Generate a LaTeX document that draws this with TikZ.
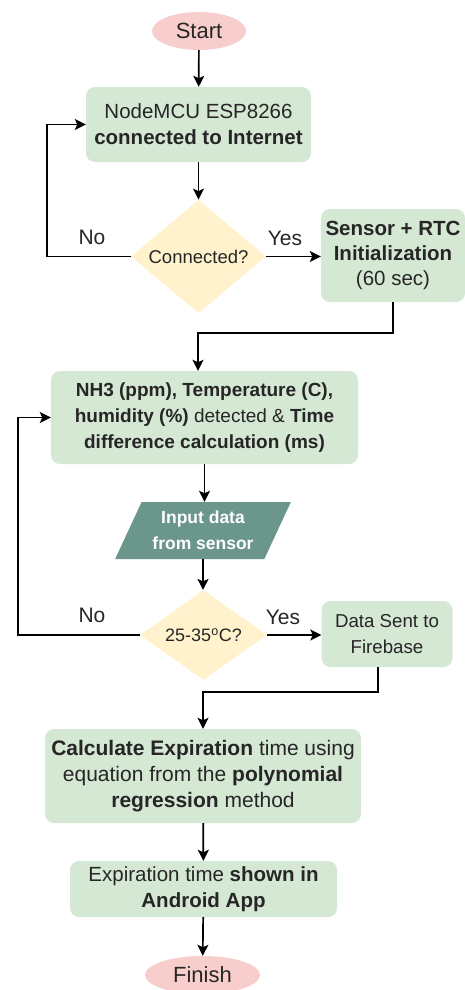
\documentclass[tikz,border=0pt]{standalone}
\usepackage{fontspec}
\setmainfont{Liberation Sans}
\usetikzlibrary{shapes.geometric,arrows.meta,calc}
\definecolor{termfill}{HTML}{F8CECC}
\definecolor{procfill}{HTML}{D5E8D4}
\definecolor{decfill}{HTML}{FFF2CC}
\definecolor{iofill}{RGB}{107,150,139}
\newcommand\setfs[1]{\fontsize{#1}{26}\selectfont}
\begin{document}
\begin{tikzpicture}[x=1pt,y=-1pt,
  term/.style={ellipse, fill=termfill, inner sep=0pt, text=black!85},
  proc/.style={rectangle, rounded corners=9pt, fill=procfill, align=center, inner sep=0pt, text=black!85},
  dec/.style={diamond, fill=decfill, inner sep=0pt, align=center, text=black!85},
  io/.style={trapezium, trapezium left angle=60.7, trapezium right angle=119.3, trapezium stretches=true, fill=iofill, text=white, align=center, inner sep=0pt},
  arr/.style={line width=1.7pt, -{Stealth[length=11pt,width=11pt,inset=2.5pt]}},
  lab/.style={font=\setfs{21}, text=black!85, inner sep=0pt}]
\clip (0,0) rectangle (465,990);
\useasboundingbox (0,0) rectangle (465,990);

\node[term, minimum width=94pt, minimum height=38pt, font=\setfs{22}] (start) at (199,31) {Start};
\node[proc, minimum width=225pt, minimum height=75pt, font=\setfs{20.5}] (b1) at (198.5,124.5) {NodeMCU ESP8266\\\textbf{connected to Internet}};
\node[dec, minimum width=135pt, minimum height=113pt, font=\setfs{18.5}] (d1) at (198.5,256.5) {Connected?};
\node[proc, minimum width=144pt, minimum height=93pt, font=\fontsize{20.5}{25}\selectfont] (b2) at (393,255.5) {\textbf{Sensor + RTC}\\\textbf{Initialization}\\(60 sec)};
\node[proc, minimum width=307pt, minimum height=93pt, font=\setfs{19}] (b3) at (204.5,417.5) {\textbf{NH3 (ppm), Temperature (C),}\\\textbf{humidity (\%)} detected \& \textbf{Time}\\\textbf{difference calculation (ms)}};
\node[io, minimum width=176pt, minimum height=57pt, font=\bfseries\setfs{17.5}] (in) at (203,530.5) {Input data\\from sensor};
\node[dec, minimum width=127pt, minimum height=74pt, font=\setfs{18}] (d2) at (203.5,635) {25-35\textsuperscript{o}C?};
\node[proc, minimum width=131pt, minimum height=66pt, font=\setfs{18.7}] (b4) at (387,634) {Data Sent to\\Firebase};
\node[proc, minimum width=316pt, minimum height=94pt, font=\setfs{21}] (b5) at (203,776) {\textbf{Calculate Expiration} time using\\equation from the \textbf{polynomial}\\\textbf{regression} method};
\node[proc, minimum width=267pt, minimum height=56pt, font=\setfs{20.5}] (b6) at (203.5,889) {Expiration time \textbf{shown in}\\\textbf{Android App}};
\node[term, minimum width=115pt, minimum height=38pt, font=\setfs{22}] (fin) at (202.5,975) {Finish};

\node[lab] (no1) at (92,237) {No};
\node[lab] (yes1) at (285,238) {Yes};
\node[lab] (no2) at (92,615) {No};
\node[lab] (yes2) at (283,617) {Yes};

\draw[arr] (start) -- (b1);
\draw[arr] (b1) -- (d1);
\draw[arr] (d1.west) -- ++(-84,0) |- (b1.west);
\draw[arr] (d1.east) -- (d1.east -| b2.west);
\draw[arr] (b2.south) -- ++(0,31) -| ([xshift=-6.5pt]b3.north);
\draw[arr] (b3.south) -- (b3.south |- in.north);
\draw[arr] (in.south) -- (in.south |- d2.north);
\draw[arr] (d2.west) -- ++(-122,0) |- (b3.west);
\draw[arr] (d2.east) -- (d2.east -| b4.west);
\draw[arr] ([xshift=-9pt]b4.south) -- ++(0,25) -| (b5.north);
\draw[arr] (b5) -- (b6);
\draw[arr] (b6) -- (fin);
\end{tikzpicture}
\end{document}
